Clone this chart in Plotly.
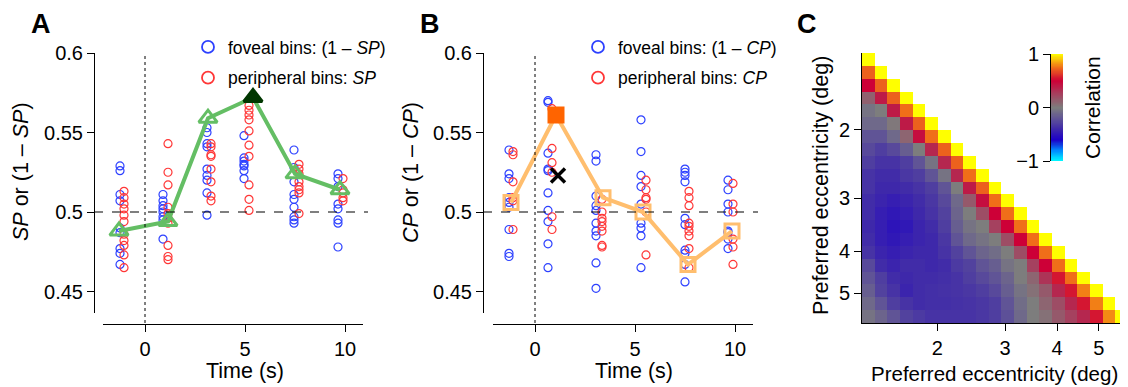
import numpy as np
import plotly.graph_objects as go

W, H = 1128, 387
OFF = 8  # the page body margin that offsets the figure inside the window
FONT = "Liberation Sans, Arial, Helvetica, sans-serif"

# ---------------- Panel A data ----------------
a_fov_t = [-1.25, 0.9, 3.1, 4.95, 7.45, 9.65]
a_fov_v = [
    [0.529, 0.526, 0.511, 0.507, 0.490, 0.487, 0.477, 0.474, 0.467],
    [0.511, 0.507, 0.504, 0.502, 0.500, 0.497, 0.495, 0.483],
    [0.553, 0.550, 0.543, 0.541, 0.527, 0.523, 0.520, 0.512, 0.498],
    [0.548, 0.534, 0.532, 0.530, 0.529, 0.526, 0.521],
    [0.539, 0.528, 0.519, 0.511, 0.508, 0.503, 0.497, 0.495, 0.493],
    [0.524, 0.521, 0.516, 0.505, 0.502, 0.495, 0.493, 0.478],
]
a_per_t = [-1.05, 1.15, 3.3, 5.2, 7.7, 9.9]
a_per_v = [
    [0.513, 0.509, 0.505, 0.502, 0.498, 0.494, 0.486, 0.482, 0.479, 0.473, 0.465],
    [0.543, 0.525, 0.517, 0.503, 0.499, 0.496, 0.493, 0.479, 0.472, 0.470],
    [0.543, 0.541, 0.536, 0.535, 0.527, 0.519, 0.510, 0.507],
    [0.567, 0.564, 0.561, 0.558, 0.551, 0.542, 0.535, 0.517, 0.508, 0.501],
    [0.530, 0.527, 0.524, 0.519, 0.516, 0.514, 0.512, 0.499],
    [0.521, 0.514, 0.512, 0.509, 0.507],
]
a_mean_t = [-1.3, 1.15, 3.15, 5.4, 7.5, 9.75]
a_mean_v = [0.488, 0.494, 0.559, 0.572, 0.524, 0.514]
a_peak_index = 3

# ---------------- Panel B data ----------------
b_fov_t = [-1.3, 0.65, 3.05, 5.3, 7.5, 9.65]
b_fov_v = [
    [0.539, 0.524, 0.521, 0.509, 0.506, 0.503, 0.489, 0.474, 0.472],
    [0.570, 0.569, 0.537, 0.527, 0.526, 0.512, 0.501, 0.494, 0.480, 0.465],
    [0.536, 0.532, 0.510, 0.504, 0.501, 0.493, 0.488, 0.485, 0.468, 0.452],
    [0.558, 0.538, 0.523, 0.516, 0.505, 0.493, 0.490, 0.485, 0.465],
    [0.527, 0.525, 0.523, 0.519, 0.496, 0.492, 0.476, 0.474, 0.467, 0.456],
    [0.520, 0.514, 0.505, 0.500, 0.488, 0.487, 0.483, 0.477],
]
b_per_t = [-1.1, 0.85, 3.35, 5.55, 7.7, 9.9]
b_per_v = [
    [0.538, 0.536, 0.519, 0.509, 0.507, 0.489],
    [0.565, 0.540, 0.531, 0.525, 0.497, 0.489],
    [0.508, 0.500, 0.496, 0.494, 0.491, 0.488, 0.479, 0.478],
    [0.520, 0.514, 0.509, 0.508, 0.500, 0.473],
    [0.513, 0.509, 0.504, 0.493, 0.491, 0.488, 0.485, 0.477, 0.465],
    [0.518, 0.505, 0.500, 0.483, 0.478, 0.467],
]
b_mean_t = [-1.2, 1.05, 3.4, 5.4, 7.65, 9.85]
b_mean_v = [0.506, 0.561, 0.509, 0.500, 0.467, 0.488]
b_peak_index = 1
b_cross_t = [1.15]
b_cross_v = [0.523]

# ---------------- Panel C data (lower triangle, row i has i+1 values) ----------------
corr_rows = [
    [1.0],
    [0.72, 1.0],
    [0.50, 0.72, 1.0],
    [0.12, 0.40, 0.72, 1.0],
    [-0.05, 0.00, 0.40, 0.75, 1.0],
    [-0.10, -0.10, 0.02, 0.40, 0.72, 1.0],
    [-0.20, -0.20, -0.10, 0.10, 0.45, 0.75, 1.0],
    [-0.25, -0.30, -0.25, -0.15, 0.00, 0.35, 0.72, 1.0],
    [-0.30, -0.35, -0.35, -0.30, -0.20, -0.05, 0.35, 0.72, 1.0],
    [-0.35, -0.38, -0.38, -0.33, -0.30, -0.20, -0.05, 0.35, 0.75, 1.0],
    [-0.35, -0.40, -0.40, -0.38, -0.35, -0.30, -0.20, 0.00, 0.40, 0.72, 1.0],
    [-0.38, -0.42, -0.45, -0.42, -0.38, -0.33, -0.25, -0.10, 0.15, 0.45, 0.75, 1.0],
    [-0.38, -0.45, -0.48, -0.45, -0.40, -0.35, -0.28, -0.12, 0.00, 0.20, 0.50, 0.75, 1.0],
    [-0.40, -0.45, -0.50, -0.48, -0.42, -0.38, -0.30, -0.15, -0.05, 0.00, 0.25, 0.50, 0.75, 1.0],
    [-0.38, -0.45, -0.48, -0.45, -0.42, -0.40, -0.33, -0.20, -0.10, -0.05, 0.00, 0.20, 0.50, 0.75, 1.0],
    [-0.35, -0.42, -0.45, -0.42, -0.40, -0.40, -0.35, -0.28, -0.20, -0.12, -0.08, 0.00, 0.20, 0.50, 0.75, 1.0],
    [-0.25, -0.38, -0.42, -0.38, -0.38, -0.40, -0.38, -0.32, -0.28, -0.20, -0.15, -0.05, 0.00, 0.25, 0.50, 0.75, 1.0],
    [-0.20, -0.30, -0.38, -0.40, -0.38, -0.38, -0.37, -0.35, -0.30, -0.25, -0.20, -0.12, 0.00, 0.10, 0.30, 0.55, 0.75, 1.0],
    [-0.15, -0.28, -0.35, -0.42, -0.38, -0.37, -0.36, -0.35, -0.33, -0.30, -0.25, -0.15, -0.05, 0.05, 0.15, 0.35, 0.55, 0.78, 1.0],
    [-0.10, -0.20, -0.30, -0.35, -0.38, -0.37, -0.37, -0.36, -0.35, -0.33, -0.30, -0.20, -0.08, 0.00, 0.10, 0.20, 0.35, 0.55, 0.78, 1.0],
    [-0.05, -0.12, -0.20, -0.28, -0.32, -0.35, -0.35, -0.35, -0.35, -0.33, -0.30, -0.22, -0.10, 0.00, 0.05, 0.15, 0.25, 0.35, 0.55, 0.80, 1.0],
]
ecc_tick_pos = [5.45, 10.8, 14.9, 18.2]
ecc_tick_text = ["2", "3", "4", "5"]
cbar_ticks = [-1, 0, 1]
cbar_ticktext = ["\u22121", "0", "1"]

BLUE = "rgb(45,65,255)"
RED = "rgb(255,55,55)"
GREEN = "rgb(100,190,100)"
DKGREEN = "rgb(0,55,0)"
ORANGE = "rgb(255,190,110)"
DKORANGE = "rgb(255,100,0)"

colorscale = [
    [0.0, "rgb(0,255,255)"],
    [0.1, "rgb(0,140,255)"],
    [0.2, "rgb(28,0,200)"],
    [0.3, "rgb(62,40,170)"],
    [0.4, "rgb(96,84,150)"],
    [0.5, "rgb(125,125,125)"],
    [0.625, "rgb(165,65,95)"],
    [0.75, "rgb(205,0,55)"],
    [0.875, "rgb(240,110,25)"],
    [1.0, "rgb(255,255,0)"],
]


def px(x):
    return (x - OFF) / W


def py(y):
    return 1 - (y - OFF) / H


def flatten(ts, vs):
    xs, ys = [], []
    for t, vals in zip(ts, vs):
        for v in vals:
            xs.append(t)
            ys.append(v)
    return xs, ys


fig = go.Figure()

PT = dict(symbol="circle-open", size=8, line=dict(width=1.2))

# Panel A scatter
for (ts, vs, col) in [(a_fov_t, a_fov_v, BLUE), (a_per_t, a_per_v, RED)]:
    xs, ys = flatten(ts, vs)
    fig.add_trace(go.Scatter(x=xs, y=ys, mode="markers", showlegend=False,
                             marker=dict(color=col, **PT), xaxis="x", yaxis="y"))

a_sym = ["triangle-up-open"] * len(a_mean_t)
a_sym[a_peak_index] = "triangle-up"
a_col = [GREEN] * len(a_mean_t)
a_col[a_peak_index] = DKGREEN
fig.add_trace(go.Scatter(x=a_mean_t, y=a_mean_v, mode="lines+markers", showlegend=False,
                         line=dict(color=GREEN, width=4),
                         marker=dict(symbol=a_sym, size=16, color=a_col, line=dict(width=3, color=a_col)),
                         xaxis="x", yaxis="y"))

# Panel B scatter
for (ts, vs, col) in [(b_fov_t, b_fov_v, BLUE), (b_per_t, b_per_v, RED)]:
    xs, ys = flatten(ts, vs)
    fig.add_trace(go.Scatter(x=xs, y=ys, mode="markers", showlegend=False,
                             marker=dict(color=col, **PT), xaxis="x2", yaxis="y2"))

b_sym = ["square-open"] * len(b_mean_t)
b_sym[b_peak_index] = "square"
b_col = [ORANGE] * len(b_mean_t)
b_col[b_peak_index] = DKORANGE
fig.add_trace(go.Scatter(x=b_mean_t, y=b_mean_v, mode="lines+markers", showlegend=False,
                         line=dict(color=ORANGE, width=4),
                         marker=dict(symbol=b_sym, size=14, color=b_col, line=dict(width=3, color=b_col)),
                         xaxis="x2", yaxis="y2"))
fig.add_trace(go.Scatter(x=b_cross_t, y=b_cross_v, mode="markers", showlegend=False,
                         marker=dict(symbol="x-thin-open", size=14, color="black", line=dict(width=3.5, color="black")),
                         xaxis="x2", yaxis="y2"))

# Legend-only entries (bigger symbols, like the reference key)
for name, col, lg, grp, ax in [
    ("foveal bins: (1 \u2013 <i>SP</i>)", BLUE, "legend", "a1", ("x", "y")),
    ("peripheral bins: <i>SP</i>", RED, "legend", "a2", ("x", "y")),
    ("foveal bins: (1 \u2013 <i>CP</i>)", BLUE, "legend2", "b1", ("x2", "y2")),
    ("peripheral bins: <i>CP</i>", RED, "legend2", "b2", ("x2", "y2")),
]:
    fig.add_trace(go.Scatter(x=[None], y=[None], mode="markers", name=name, legend=lg, legendgroup=grp,
                             marker=dict(symbol="circle-open", size=12, color=col, line=dict(width=1.8)),
                             xaxis=ax[0], yaxis=ax[1]))

# Panel C heatmap
n = len(corr_rows)
z = [row + [None] * (n - len(row)) for row in corr_rows]
fig.add_trace(go.Heatmap(z=z, x=list(range(n)), y=list(range(n)), zmin=-1, zmax=1,
                         colorscale=colorscale, showscale=False, xaxis="x3", yaxis="y3",
                         hoverongaps=False))

# Colorbar drawn as its own heatmap
cb_vals = np.linspace(-1, 1, 201)
fig.add_trace(go.Heatmap(z=[[v] for v in cb_vals], x=[0], y=cb_vals, zmin=-1, zmax=1,
                         colorscale=colorscale, showscale=False, xaxis="x4", yaxis="y4"))

tickfont = dict(family=FONT, size=20, color="black")
common = dict(showgrid=False, zeroline=False, showline=True, linecolor="black", linewidth=1,
              ticks="outside", ticklen=7, tickwidth=1, tickcolor="black", tickfont=tickfont,
              automargin=False)

y_lo = 0.5 - (313 - 212) / 1590.0
y_hi = 0.6

layout = dict(
    template="none",
    width=W, height=H, margin=dict(l=0, r=0, t=0, b=0, pad=0, autoexpand=False),
    paper_bgcolor="white", plot_bgcolor="white",
    font=dict(family=FONT, color="black"),
    xaxis=dict(domain=[px(103), px(363)], range=[-2.1, 10.9], anchor="free", position=py(324),
               tickvals=[0, 5, 10], **common),
    yaxis=dict(domain=[py(313), py(53)], range=[y_lo, y_hi], anchor="free", position=px(94),
               tickvals=[0.45, 0.5, 0.55, 0.6], ticktext=["0.45", "0.5", "0.55", "0.6"], **common),
    xaxis2=dict(domain=[px(493), px(753)], range=[-2.1, 10.9], anchor="free", position=py(324),
                tickvals=[0, 5, 10], **common),
    yaxis2=dict(domain=[py(313), py(53)], range=[y_lo, y_hi], anchor="free", position=px(483),
                tickvals=[0.45, 0.5, 0.55, 0.6], ticktext=["0.45", "0.5", "0.55", "0.6"], **common),
    xaxis3=dict(domain=[px(862), px(1128)], range=[-0.5, n - 0.5], anchor="y3",
                tickvals=ecc_tick_pos, ticktext=ecc_tick_text, **common),
    yaxis3=dict(domain=[py(323), py(53)], range=[n - 0.5, -0.5], anchor="x3",
                tickvals=ecc_tick_pos, ticktext=ecc_tick_text, **common),
    xaxis4=dict(domain=[px(1051), px(1063)], anchor="y4", visible=False, range=[-0.5, 0.5]),
    yaxis4=dict(domain=[py(161), py(54)], range=[-1, 1], anchor="free", position=px(1050),
                side="left", tickvals=cbar_ticks, ticktext=cbar_ticktext, **common),
    legend=dict(x=px(188), y=py(29), xanchor="left", yanchor="top", bgcolor="rgba(0,0,0,0)",
                font=dict(family=FONT, size=17.5, color="black"), tracegroupgap=5,
                itemwidth=30, borderwidth=0),
    legend2=dict(x=px(578), y=py(29), xanchor="left", yanchor="top", bgcolor="rgba(0,0,0,0)",
                 font=dict(family=FONT, size=17.5, color="black"), tracegroupgap=5,
                 itemwidth=30, borderwidth=0),
    showlegend=True,
)
fig.update_layout(**layout)

# reference lines
for xr, yr, x0p, x1p in [("x", "y", 94, 368), ("x2", "y2", 483, 758)]:
    fig.add_shape(type="line", xref="paper", yref=yr,
                  x0=px(x0p), x1=px(x1p), y0=0.5, y1=0.5,
                  line=dict(color="black", width=1.2, dash="dash"))
    fig.add_shape(type="line", xref=xr, yref="paper", x0=0, x1=0, y0=py(323), y1=py(53),
                  line=dict(color="black", width=1, dash="dot"))

TS = 21.5
ann = []
ann.append(dict(text="<b>A</b>", x=px(41), y=py(24), font=dict(size=27)))
ann.append(dict(text="<b>B</b>", x=px(430), y=py(24), font=dict(size=27)))
ann.append(dict(text="<b>C</b>", x=px(807), y=py(24), font=dict(size=27)))
ann.append(dict(text="Time (s)", x=px(245), y=py(371), font=dict(size=TS)))
ann.append(dict(text="Time (s)", x=px(634), y=py(371), font=dict(size=TS)))
ann.append(dict(text="<i>SP</i> or (1 \u2013 <i>SP</i>)", x=px(21), y=py(172), textangle=-90, font=dict(size=TS)))
ann.append(dict(text="<i>CP</i> or (1 \u2013 <i>CP</i>)", x=px(411), y=py(172), textangle=-90, font=dict(size=TS)))
ann.append(dict(text="Preferred eccentricity (deg)", x=px(994), y=py(373), font=dict(size=20.5)))
ann.append(dict(text="Preferred eccentricity (deg)", x=px(821), y=py(186), textangle=-90, font=dict(size=TS)))
ann.append(dict(text="Correlation", x=px(1093), y=py(108), textangle=-90, font=dict(size=21)))
for a in ann:
    a.update(xref="paper", yref="paper", showarrow=False, xanchor="center", yanchor="middle")
    a["font"].update(family=FONT, color="black")
    fig.add_annotation(**a)

fig.write_html("out.html")
